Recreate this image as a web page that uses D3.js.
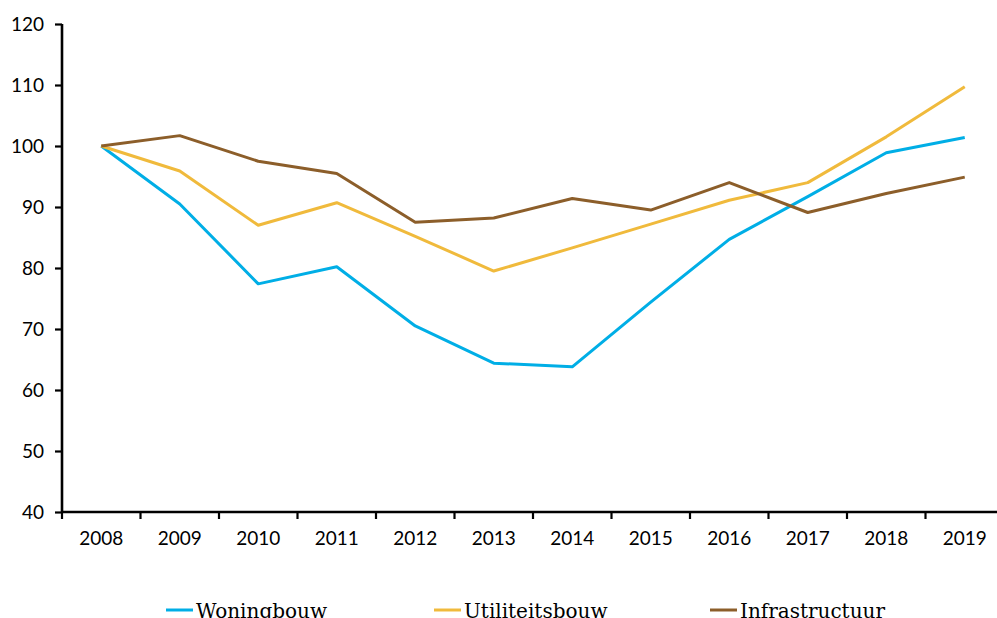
<!DOCTYPE html>
<html>
<head>
<meta charset="utf-8">
<script src="https://cdn.jsdelivr.net/npm/d3@7"></script>
<style>
  body { margin: 0; background: #fff; overflow: hidden; }
  .tick text { font-family: Lato, "Open Sans", sans-serif; font-size: 19px; fill: #000; }
</style>
</head>
<body>
<script>
const years = ["2008", "2009", "2010", "2011", "2012", "2013", "2014", "2015", "2016", "2017", "2018", "2019"];
const woningbouw     = [100, 90.5, 77.4, 80.2, 70.5, 64.4, 63.8, 74.4, 84.7, 91.7, 98.9, 101.4];
const utiliteitsbouw = [100, 95.9, 87.0, 90.7, 85.2, 79.5, 83.3, 87.2, 91.1, 94.0, 101.5, 109.7];
const infrastructuur = [100, 101.7, 97.5, 95.5, 87.5, 88.2, 91.4, 89.5, 94.0, 89.1, 92.2, 94.9];
const yTicks = [40, 50, 60, 70, 80, 90, 100, 110, 120];

const series = [
  { name: "Woningbouw", values: woningbouw, color: "#00aee6" },
  { name: "Utiliteitsbouw", values: utiliteitsbouw, color: "#f0ba3c" },
  { name: "Infrastructuur", values: infrastructuur, color: "#8c5e2a" }
];

const width = 997, height = 618;
const margin = { top: 24, right: -7, bottom: 106, left: 62 };

const svg = d3.select("body").append("svg")
    .attr("width", width)
    .attr("height", height);

const x = d3.scaleBand()
    .domain(years)
    .range([margin.left, width - margin.right])
    .padding(0);

const y = d3.scaleLinear()
    .domain([40, 120])
    .range([height - margin.bottom, margin.top]);

// y axis
const yAxis = svg.append("g")
    .attr("transform", `translate(${margin.left},0)`)
    .call(d3.axisLeft(y).tickValues(yTicks).tickSize(7).tickPadding(11));
yAxis.select(".domain").attr("stroke", "#000").attr("stroke-width", 2.6)
    .attr("d", `M0,${y(120)}V${y(40)}`);
yAxis.selectAll(".tick line").attr("stroke", "#000").attr("stroke-width", 2.2);

// x axis labels
const xAxis = svg.append("g")
    .attr("transform", `translate(0,${y(40)})`)
    .call(d3.axisBottom(x).tickSize(0).tickPadding(20));
xAxis.select(".domain").remove();

// x axis line and boundary ticks
svg.append("line")
    .attr("x1", margin.left)
    .attr("x2", width)
    .attr("y1", y(40))
    .attr("y2", y(40))
    .attr("stroke", "#000")
    .attr("stroke-width", 2.6);

svg.append("g").selectAll("line")
    .data(years)
    .enter().append("line")
    .attr("x1", d => x(d))
    .attr("x2", d => x(d))
    .attr("y1", y(40))
    .attr("y2", y(40) + 7)
    .attr("stroke", "#000")
    .attr("stroke-width", 2.2);

const line = d3.line()
    .x((d, i) => x(years[i]) + x.bandwidth() / 2)
    .y(d => y(d));

svg.append("g").selectAll("path")
    .data(series)
    .enter().append("path")
    .attr("fill", "none")
    .attr("stroke", d => d.color)
    .attr("stroke-width", 3)
    .attr("stroke-linejoin", "round")
    .attr("d", d => line(d.values));

// legend
const legendX = [166, 434, 710];
const legend = svg.selectAll(".legend")
    .data(series)
    .enter().append("g")
    .attr("class", "legend")
    .attr("transform", (d, i) => `translate(${legendX[i]},610)`);

legend.append("line")
    .attr("x1", 0)
    .attr("x2", 27)
    .attr("stroke", d => d.color)
    .attr("stroke-width", 3);

legend.append("text")
    .attr("x", 30)
    .attr("y", 8)
    .style("font-family", "'DejaVu Serif', serif")
    .style("font-size", "20px")
    .style("fill", "#000")
    .text(d => d.name);
</script>
</body>
</html>
